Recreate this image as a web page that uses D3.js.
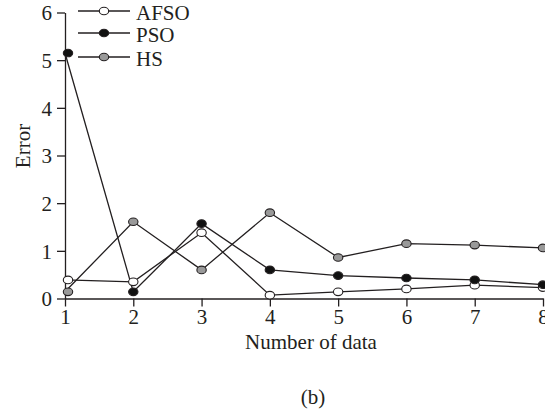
<!DOCTYPE html>
<html><head><meta charset="utf-8">
<script src="https://cdn.jsdelivr.net/npm/d3@7"></script>
<style>body{margin:0;background:#fff}svg{display:block}text{font-family:"Liberation Serif","Times New Roman",serif;fill:#231f20}</style>
</head><body>
<svg id="c" width="545" height="411"></svg>
<script>
const xValues = [1, 2, 3, 4, 5, 6, 7, 8];
const afso = [0.39, 0.35, 1.38, 0.07, 0.14, 0.20, 0.28, 0.23];
const pso  = [5.15, 0.14, 1.57, 0.60, 0.48, 0.43, 0.39, 0.29];
const hs   = [0.14, 1.61, 0.60, 1.80, 0.86, 1.15, 1.12, 1.06];
const yTicks = [0, 1, 2, 3, 4, 5, 6];
const seriesNames = ["AFSO", "PSO", "HS"];
const seriesFill = ["#ffffff", "#111111", "#999999"];
const seriesData = [afso, pso, hs];

const svg = d3.select("#c");
const x = d3.scaleLinear().domain([1, 8]).range([65, 543]);
const y = d3.scaleLinear().domain([0, 6]).range([298.5, 12.5]);
const col = "#231f20";
const fs = 21;

const xa = svg.append("g").attr("transform", "translate(0," + y(0) + ")")
  .call(d3.axisBottom(x).tickValues(xValues).tickSizeInner(8).tickSizeOuter(0).tickPadding(3).tickFormat(d3.format("d")));
const ya = svg.append("g").attr("transform", "translate(" + x(1) + ",0)")
  .call(d3.axisLeft(y).tickValues(yTicks).tickSizeInner(8).tickSizeOuter(0).tickPadding(5).tickFormat(d3.format("d")));
[xa, ya].forEach(a => {
  a.selectAll("path,line").attr("stroke", col).attr("stroke-width", 1.3);
  a.selectAll("text").attr("font-size", fs).attr("fill", col).style("font-family", '"Liberation Serif",serif');
});
ya.selectAll("text").attr("dy", "0.35em");

svg.append("text").attr("x", 311).attr("y", 349).attr("text-anchor", "middle").attr("font-size", fs).text("Number of data");
svg.append("text").attr("transform", "translate(30,146) rotate(-90)").attr("text-anchor", "middle").attr("font-size", fs).text("Error");
svg.append("text").attr("x", 313).attr("y", 404).attr("text-anchor", "middle").attr("font-size", fs).text("(b)");

const line = d3.line().x((d, i) => x(xValues[i])).y(d => y(d));
seriesData.forEach((s, k) => {
  svg.append("path").datum(s).attr("d", line).attr("fill", "none").attr("stroke", col).attr("stroke-width", 1.3);
});
seriesData.forEach((s, k) => {
  svg.append("g").selectAll("ellipse").data(s).join("ellipse")
    .attr("cx", (d, i) => x(xValues[i]) + (i === 0 ? 3 : 0)).attr("cy", d => y(d))
    .attr("rx", 4.7).attr("ry", 3.8)
    .attr("fill", seriesFill[k]).attr("stroke", col).attr("stroke-width", 1.1);
});

const legY = [11, 33, 57];
seriesNames.forEach((n, k) => {
  const g = svg.append("g");
  g.append("line").attr("x1", 78).attr("x2", 130).attr("y1", legY[k]).attr("y2", legY[k]).attr("stroke", col).attr("stroke-width", 1.3);
  g.append("ellipse").attr("cx", 104).attr("cy", legY[k]).attr("rx", 4.7).attr("ry", 3.8).attr("fill", seriesFill[k]).attr("stroke", col).attr("stroke-width", 1.1);
  g.append("text").attr("x", 136).attr("y", legY[k] + 9).attr("font-size", fs).text(n);
});
</script>
</body></html>
